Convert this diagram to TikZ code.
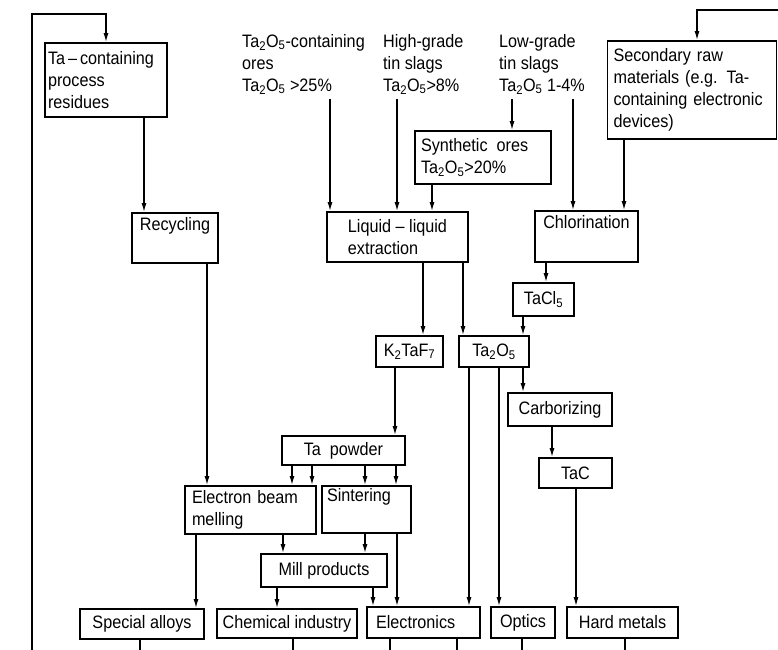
\documentclass[tikz,border=0pt]{standalone}
\usepackage{fontspec}
\setmainfont{Liberation Sans}[FakeStretch=0.9]
\usetikzlibrary{arrows.meta}

\newcommand{\taox}{Ta\textsubscript{2}O\textsubscript{5}}

\begin{document}
\begin{tikzpicture}[x=1pt,y=-1pt,
    font=\fontsize{18}{22}\selectfont,
    box/.style={draw,line width=1.7pt,inner sep=2pt,align=center},
    lbox/.style={draw,line width=1.7pt,inner xsep=6pt,inner ysep=2pt,align=left},
    lab/.style={inner sep=0pt,align=left,anchor=north west},
    arr/.style={line width=1.4pt,-{Latex[length=9pt,width=5pt]}},
    useline/.style={line width=1.4pt}]
  \useasboundingbox (0,0) rectangle (778,649);
  % raw materials
  \node[lbox,inner xsep=3pt,text width=116pt,minimum height=74pt] (resid) at (106,80) {Ta\,--\,containing\\process\\residues};
  \node[lab] (ores) at (242,34) {\taox-containing\\ores\\\taox{} >25\%};
  \node[lab] (high) at (383,34) {High-grade\\tin slags\\\taox>8\%};
  \node[lab] (low) at (499,34) {Low-grade\\tin slags\\\taox{} 1-4\%};
  \node[lbox,text width=157pt,minimum height=98pt] (second) at (692,90) {Secondary raw\\materials (e.g. Ta-\\containing electronic\\devices)};
  \node[lbox,text width=124pt,minimum height=53pt] (synth) at (483,157.5) {Synthetic\enspace ores\\\taox>20\%};
  % processing
  \node[box,minimum width=86pt,minimum height=50pt] (recyc) at (175,238) {Recycling\\\strut};
  \node[box,align=left,minimum width=141pt,minimum height=50pt] (lle) at (397.5,237) {Liquid -- liquid\\extraction};
  \node[box,minimum width=103pt,minimum height=51pt] (chlor) at (586.5,236.5) {Chlorination\\\strut};
  \node[box,minimum width=61pt,minimum height=33pt] (tacl) at (543.5,299.5) {TaCl\textsubscript{5}};
  \node[box,minimum width=67pt,minimum height=31pt] (fluoride) at (409.5,351.5) {K\textsubscript{2}TaF\textsubscript{7}};
  \node[box,minimum width=70pt,minimum height=31pt] (oxide) at (494,351.5) {\taox};
  \node[box,minimum width=104pt,minimum height=33pt] (carb) at (560,409.5) {Carborizing};
  \node[box,minimum width=73pt,minimum height=30pt] (tac) at (575.5,473) {TaC};
  \node[box,minimum width=123pt,minimum height=29pt] (powder) at (343.5,450.5) {Ta~~powder};
  \node[lbox,inner xsep=7pt,text width=117pt,minimum height=48pt] (ebm) at (250.5,510) {Electron beam\\melling};
  \node[lbox,inner xsep=5pt,text width=79pt,minimum height=47pt] (sinter) at (366.5,509.5) {Sintering\\\strut};
  \node[box,minimum width=126pt,minimum height=33pt] (mill) at (324,570.5) {Mill products};
  % uses
  \node[box,minimum width=124pt,minimum height=30pt] (alloys) at (142,624) {Special alloys};
  \node[box,minimum width=140pt,minimum height=29pt] (chem) at (287,623.5) {Chemical industry};
  \node[lbox,inner xsep=9pt,text width=95pt,minimum height=31pt] (elec) at (423.5,622.5) {Electronics};
  \node[box,minimum width=64pt,minimum height=31pt] (optics) at (523,622.5) {Optics};
  \node[box,minimum width=111pt,minimum height=31pt] (hard) at (622.5,622.5) {Hard metals};
  % flows
  \foreach \a/\b/\x in {ores/lle/330, high/lle/397, low/synth/512, low/chlor/573}
    \draw[arr,shorten <=5pt] (\a.south -| \x,0) -- (\b.north -| \x,0);
  \foreach \a/\b/\x in {resid/recyc/144, synth/lle/432, second/chlor/624, recyc/ebm/207,
      lle/fluoride/423, lle/oxide/463, chlor/tacl/546, tacl/oxide/523, fluoride/powder/395,
      oxide/elec/469, oxide/optics/499, oxide/carb/523, carb/tac/552, tac/hard/576,
      powder/ebm/292, powder/ebm/312, powder/sinter/365, powder/sinter/396,
      ebm/alloys/196, ebm/mill/283, sinter/mill/365, sinter/elec/397,
      mill/chem/277, mill/elec/373}
    \draw[arr] (\a.south -| \x,0) -- (\b.north -| \x,0);
  \foreach \b/\x in {alloys/140, chem/293, elec/390, elec/457, optics/522, hard/625}
    \draw[useline] (\b.south -| \x,0) -- (\x,650);
  % return loops
  \coordinate (backL) at (32,650);
  \coordinate (backR) at (779,10);
  \draw[arr] (backL) |- (resid.north |- 0,14) -- (resid.north);
  \draw[arr] (backR) -| (second.north -| 697,0);
\end{tikzpicture}
\end{document}
